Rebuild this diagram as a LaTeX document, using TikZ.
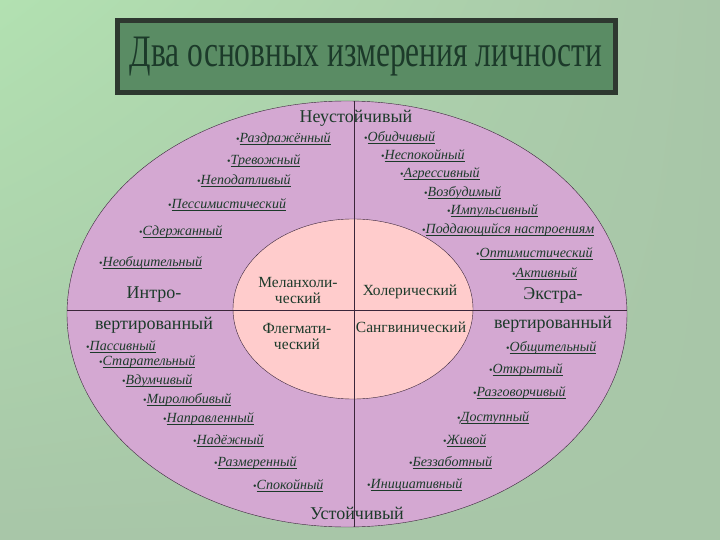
\documentclass[tikz,border=0pt]{standalone}
\usepackage{fontspec}
\setmainfont{Liberation Serif}
\usetikzlibrary{shadings}
\definecolor{bgA}{HTML}{B2E1B1}
\definecolor{bgB}{HTML}{A8C6A8}
\definecolor{titlefill}{HTML}{5A8C64}
\definecolor{titleedge}{HTML}{2E3830}
\definecolor{ink}{HTML}{1C3A2A}
\definecolor{outerfill}{HTML}{D4A8D2}
\definecolor{innerfill}{HTML}{FFCCCC}
\definecolor{axis}{HTML}{3A263A}
\newcommand\traitline[1]{\setbox0\hbox{#1}\rlap{\rule[-2.2pt]{\wd0}{0.8pt}}\box0}
\begin{document}
\begin{tikzpicture}[x=1pt,y=-1pt,
  trait/.style={anchor=west,inner sep=0pt,text=ink,font=\fontsize{14}{14}\selectfont},
  pole/.style={inner sep=0pt,text=ink,font=\fontsize{18}{18}\selectfont},
  temper/.style={inner sep=0pt,text=ink,align=center,font=\fontsize{15.5}{16}\selectfont}]
\useasboundingbox (0,0) rectangle (720,540);
\shade[upper left=bgA,upper right=bgB,lower left=bgB,lower right=bgB] (0,0) rectangle (720,540);
% title
\draw[line width=5pt,draw=titleedge,fill=titlefill] (117,21) rectangle (615,93);
\node[text=ink,xscale=0.7,font=\fontsize{45}{45}\selectfont] (title) at (366,57) {Два основных измерения личности};
% ellipses and axes
\draw[axis,fill=outerfill,thin] (347,314) ellipse [x radius=280,y radius=213];
\draw[axis,fill=innerfill,thin] (353,309) ellipse [x radius=120,y radius=90];
\coordinate (top) at (354,101);
\coordinate (bottom) at (354,527);
\coordinate (left) at (67,310);
\coordinate (right) at (627,310);
\draw[axis,semithick] (top) -- (bottom);
\draw[axis,semithick] (left) -- (right);
% poles
\node[pole] (unstable) at (356,118) {Неустойчивый};
\node[pole] (stable) at (357,513) {Устойчивый};
\node[pole] (intro1) at (154,295) {Интро-};
\node[pole] (intro2) at (154,325) {вертированный};
\node[pole] (extra1) at (553,295) {Экстра-};
\node[pole] (extra2) at (553,324) {вертированный};
% temperaments
\node[temper] (melan) at (298,290) {Меланхоли-\\ческий};
\node[temper] (chol) at (410,292) {Холерический};
\node[temper] (phleg) at (297,336) {Флегмати-\\ческий};
\node[temper] (sang) at (411,327) {Сангвинический};
% traits
\foreach \n/\x/\y/\t in {
  ul1/236/139/Раздражённый, ul2/227/161/Тревожный, ul3/197/181/Неподатливый,
  ul4/168/205/Пессимистический, ul5/139/232/Сдержанный, ul6/99/263/Необщительный,
  ur1/364/138/Обидчивый, ur2/381/156/Неспокойный, ur3/400/174/Агрессивный,
  ur4/424/193/Возбудимый, ur5/447/211/Импульсивный, ur6/422/230/Поддающийся настроениям,
  ur7/476/254/Оптимистический, ur8/512/274/Активный,
  ll1/86/347/Пассивный, ll2/99/362/Старательный, ll3/122/381/Вдумчивый,
  ll4/143/400/Миролюбивый, ll5/163/419/Направленный, ll6/193/441/Надёжный,
  ll7/214/463/Размеренный, ll8/253/486/Спокойный,
  lr1/506/348/Общительный, lr2/489/370/Открытый, lr3/473/393/Разговорчивый,
  lr4/457/418/Доступный, lr5/443/441/Живой, lr6/409/463/Беззаботный,
  lr7/367/485/Инициативный}
  \node[trait] (\n) at (\x,\y) {{\fontsize{10}{10}\selectfont•}\traitline{\itshape\t}};
\end{tikzpicture}
\end{document}
